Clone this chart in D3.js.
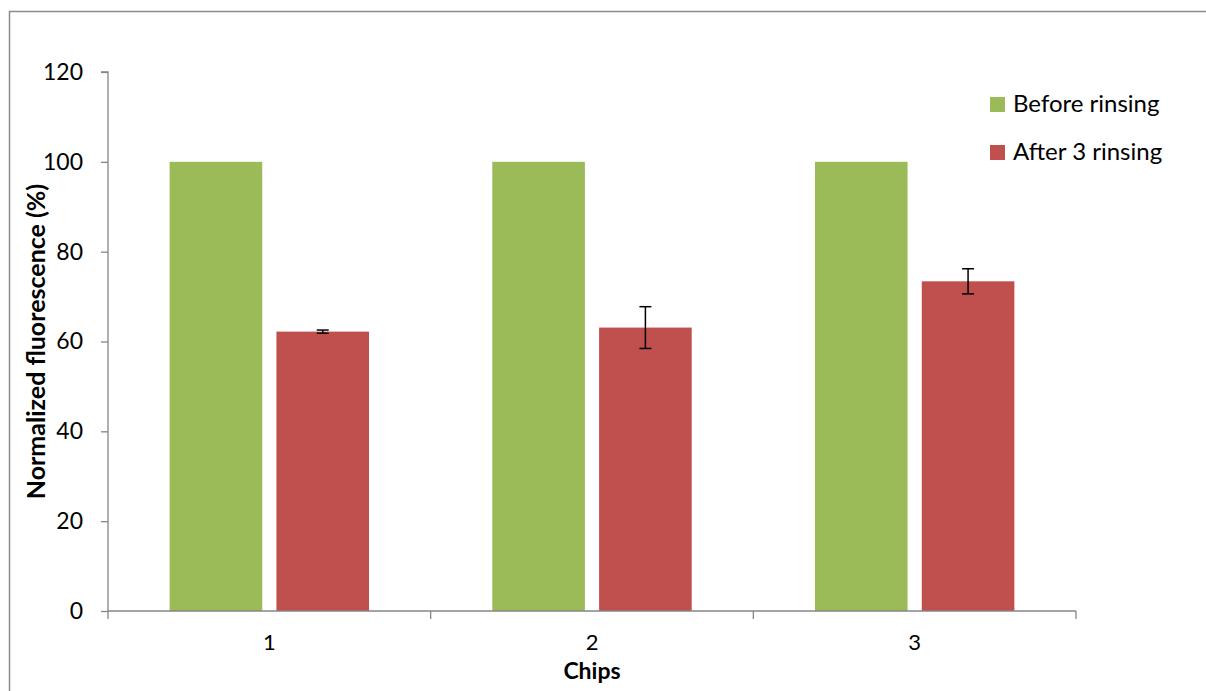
<!DOCTYPE html>
<html><head><meta charset="utf-8">
<script src="https://cdn.jsdelivr.net/npm/d3@7"></script>
<style>body{margin:0;background:#fff}svg{display:block}text{font-family:Lato,"Open Sans",sans-serif}</style>
</head><body>
<svg id="c" width="1206" height="691"></svg>
<script>
const categories = ["1","2","3"];
const seriesNames = ["Before rinsing","After 3 rinsing"];
const beforeValues = [100,100,100];
const afterValues = [62.2,63.1,73.4];
const afterErrors = [0.35,4.65,2.8];
const yTicks = [0,20,40,60,80,100,120];
const colors = ["#9BBB59","#C0504D"];

const svg = d3.select("#c");
svg.append("rect").attr("x",9.5).attr("y",11.5).attr("width",1206).attr("height",700)
  .attr("fill","none").attr("stroke","#8c8c8c").attr("stroke-width",1.5);

const pL=108, pR=1076, pT=72, pB=611;
const x0 = d3.scaleBand().domain(categories).range([pL,pR]).paddingInner(0).paddingOuter(0);
const y = d3.scaleLinear().domain([0,120]).range([pB,pT]);
const bw = x0.bandwidth();
const barW = bw*0.287, gap = bw*0.044;
const sub = d3.scaleBand().domain([0,1]).range([0, barW*2+gap]).paddingInner(gap/(barW+gap));

const data = categories.map((c,i)=>({c, vals:[beforeValues[i], afterValues[i]], err:afterErrors[i]}));
const g = svg.append("g");
data.forEach(d=>{
  const start = x0(d.c) + (bw - (barW*2+gap))/2;
  d.vals.forEach((v,k)=>{
    g.append("rect").attr("x",start+sub(k)).attr("width",sub.bandwidth())
      .attr("y",y(v)).attr("height",y(0)-y(v)).attr("fill",colors[k]);
  });
  const cx = start+sub(1)+sub.bandwidth()/2;
  const v = d.vals[1];
  g.append("line").attr("x1",cx).attr("x2",cx).attr("y1",y(v+d.err)).attr("y2",y(v-d.err)).attr("stroke","#000").attr("stroke-width",1.5);
  [v+d.err,v-d.err].forEach(e=>g.append("line").attr("x1",cx-6).attr("x2",cx+6).attr("y1",y(e)).attr("y2",y(e)).attr("stroke","#000").attr("stroke-width",1.5));
});

const yAxis = d3.axisLeft(y).tickValues(yTicks).tickSize(7).tickPadding(18);
const ya = svg.append("g").attr("transform",`translate(${pL},0)`).call(yAxis);
ya.select(".domain").attr("stroke","#868686").attr("stroke-width",1.3).attr("d",`M-7,${pT}H0V${pB}`);
ya.selectAll(".tick line").attr("stroke","#868686").attr("stroke-width",1.3);
ya.selectAll(".tick text").attr("font-size",23).attr("fill","#000").style("font-family","Lato");

const xAxis = d3.axisBottom(x0).tickSize(0).tickPadding(23);
const xa = svg.append("g").attr("transform",`translate(0,${pB})`).call(xAxis);
xa.select(".domain").attr("stroke","#868686").attr("stroke-width",1.3).attr("d",`M${pL},0H${pR}`);
xa.selectAll(".tick text").attr("font-size",22).attr("fill","#000").style("font-family","Lato");
const bounds = [pL].concat(categories.map(c=>x0(c)+bw));
xa.selectAll("line.bnd").data(bounds).enter().append("line").attr("class","bnd")
  .attr("x1",d=>d).attr("x2",d=>d).attr("y1",0).attr("y2",8).attr("stroke","#868686").attr("stroke-width",1.3);

svg.append("text").attr("x",592).attr("y",679).attr("text-anchor","middle")
  .attr("font-size",23).attr("font-weight","bold").text("Chips");
svg.append("text").attr("transform",`translate(45,${(pT+pB)/2}) rotate(-90)`).attr("text-anchor","middle")
  .attr("font-size",25).attr("font-weight","bold").text("Normalized fluorescence (%)");

const leg = svg.append("g");
seriesNames.forEach((n,i)=>{
  const yy = 97 + i*48;
  leg.append("rect").attr("x",990).attr("y",yy).attr("width",15).attr("height",15).attr("fill",colors[i]);
  leg.append("text").attr("x",1013).attr("y",yy+15).attr("font-size",24).attr("fill","#000").text(n);
});
</script>
</body></html>
